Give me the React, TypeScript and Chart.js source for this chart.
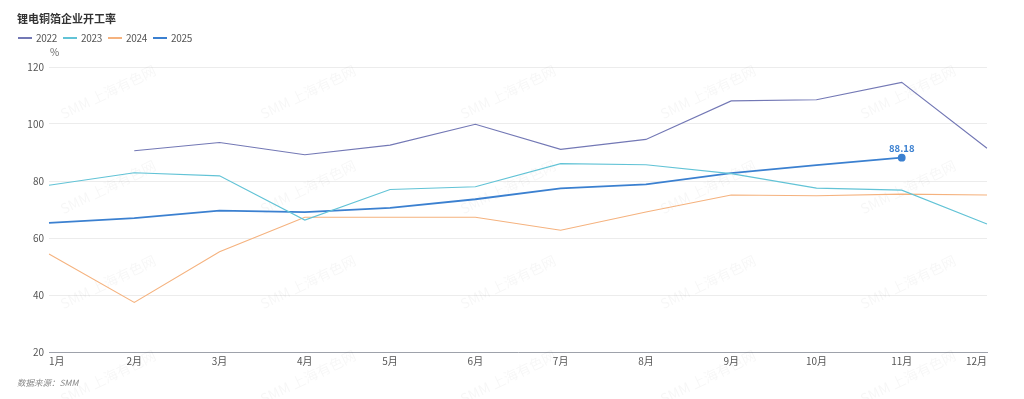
import React, { useEffect, useRef } from "react";
import { Chart, registerables } from "chart.js";

Chart.register(...registerables);

const months = ["1月", "2月", "3月", "4月", "5月", "6月", "7月", "8月", "9月", "10月", "11月", "12月"];
const seriesNames = ["2022", "2023", "2024", "2025"];
const seriesColors = ["#7378b5", "#62c3d6", "#f5b27e", "#3b80d0"];
const data2022: (number | null)[] = [null, 90.6, 93.5, 89.2, 92.6, 99.9, 91.1, 94.6, 108.1, 108.5, 114.6, 91.5];
const data2023: (number | null)[] = [78.5, 82.9, 81.8, 66.3, 77.0, 78.0, 86.1, 85.7, 82.6, 77.5, 76.8, 64.9];
const data2024: (number | null)[] = [54.4, 37.4, 55.2, 67.3, 67.3, 67.3, 62.7, 69.1, 75.1, 74.8, 75.4, 75.1];
const data2025: (number | null)[] = [65.3, 67.0, 69.6, 69.1, 70.6, 73.6, 77.4, 78.8, 82.8, 85.6, 88.18, null];
const yTicks = { min: 20, max: 120, step: 20 };
const lastLabelValue = "88.18";

const FONT = '"Noto Sans CJK SC", "Noto Sans", sans-serif';

export default function App() {
  const ref = useRef<HTMLCanvasElement | null>(null);

  useEffect(() => {
    if (!ref.current) return;
    const allData = [data2022, data2023, data2024, data2025];
    const lastIdx = data2025.reduce((acc: number, v, i) => (v !== null ? i : acc), -1);

    const watermark = {
      id: "watermark",
      beforeDatasetsDraw(chart: any) {
        const ctx = chart.ctx;
        ctx.save();
        ctx.font = `14px ${FONT}`;
        ctx.fillStyle = "rgba(0,0,0,0.035)";
        ctx.textAlign = "center";
        ctx.textBaseline = "middle";
        for (let j = 0; j < 4; j++) {
          for (let i = 0; i < 5; i++) {
            const cx = 108 + 200 * i;
            const cy = 92 + 95 * j;
            ctx.save();
            ctx.translate(cx, cy);
            ctx.rotate(-0.45);
            ctx.fillText("SMM 上海有色网", 0, 0);
            ctx.restore();
          }
        }
        ctx.restore();
      },
    };

    const extras = {
      id: "extras",
      afterDatasetsDraw(chart: any) {
        const ctx = chart.ctx;
        const meta = chart.getDatasetMeta(3);
        const pt = meta.data[lastIdx];
        if (pt) {
          ctx.save();
          ctx.font = `bold 9.5px ${FONT}`;
          ctx.fillStyle = seriesColors[3];
          ctx.textAlign = "center";
          ctx.textBaseline = "bottom";
          ctx.fillText(lastLabelValue, pt.x, pt.y - 5);
          ctx.restore();
        }
        ctx.save();
        ctx.font = `10px ${FONT}`;
        ctx.fillStyle = "#666";
        ctx.textAlign = "left";
        ctx.textBaseline = "middle";
        ctx.fillText("%", chart.chartArea.left + 1, 52);
        ctx.restore();
      },
    };

    const chart = new Chart(ref.current, {
      type: "line",
      data: {
        labels: months,
        datasets: seriesNames.map((name, k) => ({
          label: name,
          data: allData[k],
          borderColor: seriesColors[k],
          backgroundColor: seriesColors[k],
          borderWidth: k === 3 ? 1.8 : 1.1,
          tension: 0,
          spanGaps: false,
          pointRadius: k === 3 ? (c: any) => (c.dataIndex === lastIdx ? 3 : 0) : 0,
          pointHoverRadius: 0,
        })),
      },
      options: {
        responsive: false,
        animation: false,
        layout: { padding: { top: 67, right: 37, left: 0, bottom: 0 } },
        plugins: {
          legend: { display: false },
          title: { display: false },
          tooltip: { enabled: false },
        },
        scales: {
          x: {
            type: "category",
            offset: false,
            grid: { display: false, drawTicks: false },
            border: { display: true, color: "#9ea2ab", width: 1 },
            ticks: {
              align: "inner",
              color: "#555",
              font: { size: 10, family: FONT },
              padding: 3,
              maxRotation: 0,
              autoSkip: false,
            },
            afterFit: (s: any) => {
              s.height = 47;
            },
          },
          y: {
            min: yTicks.min,
            max: yTicks.max,
            ticks: {
              stepSize: yTicks.step,
              color: "#555",
              font: { size: 10, family: FONT },
              padding: 5,
            },
            grid: { color: "#ececec", drawTicks: false, lineWidth: 1 },
            border: { display: false },
            afterFit: (s: any) => {
              s.width = 49;
            },
          },
        },
      },
      plugins: [watermark, extras],
    } as any);

    return () => chart.destroy();
  }, []);

  return (
    <div style={{ position: "absolute", left: 0, top: 0, width: 1024, height: 399, background: "#fff", fontFamily: FONT }}>
      <canvas ref={ref} width={1024} height={399} style={{ position: "absolute", left: 0, top: 0, width: 1024, height: 399 }} />
      <div style={{ position: "absolute", left: 17, top: 10, fontSize: 11, fontWeight: "bold", color: "#333", lineHeight: "16px" }}>
        锂电铜箔企业开工率
      </div>
      <div style={{ position: "absolute", left: 18, top: 31, display: "flex", alignItems: "center", fontSize: 10, letterSpacing: -0.3, color: "#555", lineHeight: "14px" }}>
        {seriesNames.map((n, k) => (
          <div key={n} style={{ display: "flex", alignItems: "center", marginRight: 6 }}>
            <span style={{ display: "inline-block", width: 14, height: 2, background: seriesColors[k], marginRight: 4 }} />
            <span>{n}</span>
          </div>
        ))}
      </div>
      <div style={{ position: "absolute", left: 17, top: 375, fontSize: 8.5, fontStyle: "italic", color: "#888", lineHeight: "14px" }}>
        数据来源：SMM
      </div>
    </div>
  );
}
